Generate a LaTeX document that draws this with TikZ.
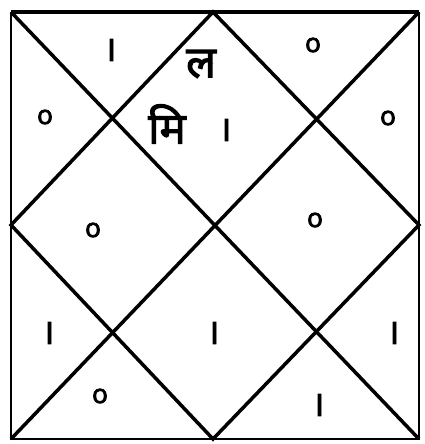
\documentclass[tikz,border=0pt]{standalone}
\usepackage{fontspec}
\newfontfamily\devfont[Script=Devanagari, FakeBold=2.5]{Noto Sans}
\setmainfont{Liberation Sans}

\begin{document}
\begin{tikzpicture}[x=0.02cm, y=-0.02cm, every node/.style={font=\devfont\fontsize{20}{20}\selectfont, inner sep=0pt}, ring/.style={font=\devfont\fontsize{15}{15}\selectfont}, akshar/.style={font=\devfont\fontsize{25}{25}\selectfont}]
  \useasboundingbox (0,0) rectangle (424,444);
  % corners and mid points of the chart
  \coordinate (tl) at (11,12);
  \coordinate (tr) at (419,12);
  \coordinate (br) at (419,439);
  \coordinate (bl) at (11,439);
  \coordinate (tm) at (213,12);
  \coordinate (rm) at (419,225);
  \coordinate (bm) at (213,439);
  \coordinate (lm) at (11,225);
  % frame and diagonals
  \draw[line width=1.2pt] (tr) -- (br) -- (bl) -- (tl);
  \draw[line width=2pt] (tl) -- (tr);
  \draw[line width=2pt] (tl) -- (br) (tr) -- (bl);
  \draw[line width=2pt] (tm) -- (rm) -- (bm) -- (lm) -- cycle;
  % house marks
  \node (h12) at (110,50) {।};
  \node[akshar] (lagna) at (201,64) {ल};
  \node[akshar] (mitra) at (167,124) {मि};
  \node (h1) at (225,130) {।};
  \node[ring] (h2) at (313,45) {o};
  \node[ring] (h11) at (45,117) {o};
  \node[ring] (h3) at (388,118) {o};
  \node[ring] (h10) at (93,230) {o};
  \node[ring] (h4) at (315,220) {o};
  \node (h9) at (48,333) {।};
  \node (h7) at (213,333) {।};
  \node (h5) at (393,333) {।};
  \node[ring] (h8) at (100,396) {o};
  \node (h6) at (318,405) {।};
\end{tikzpicture}
\end{document}
